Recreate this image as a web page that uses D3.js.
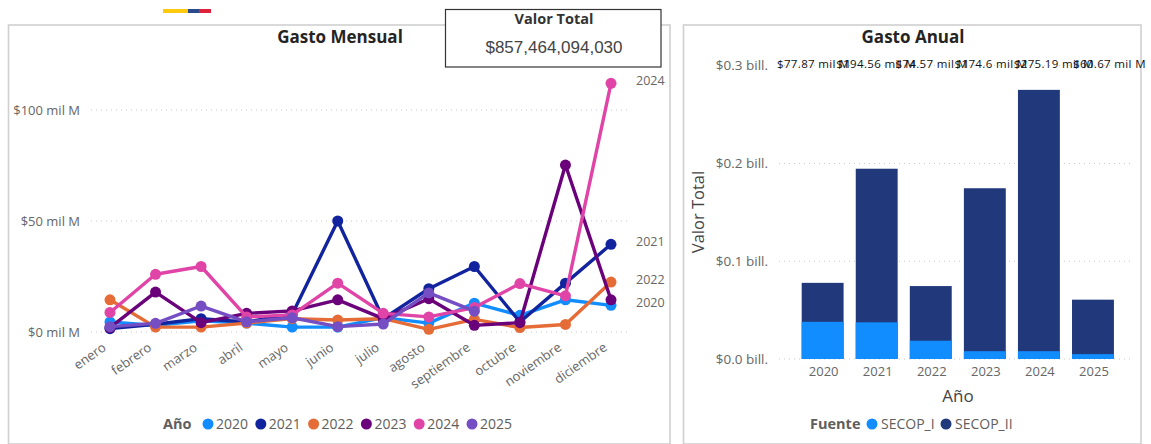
<!DOCTYPE html>
<html lang="es"><head><meta charset="utf-8">
<script src="https://cdn.jsdelivr.net/npm/d3@7"></script>
<style>
html,body{margin:0;padding:0;background:#fff;overflow:hidden}
svg{display:block}
text{font-family:"Open Sans","Noto Sans",sans-serif}
.axis path,.axis line{display:none}
</style></head><body>
<svg id="c" width="1151" height="444"></svg>
<script>
const months=["enero","febrero","marzo","abril","mayo","junio","julio","agosto","septiembre","octubre","noviembre","diciembre"];
const lineYears=["2020","2021","2022","2023","2024","2025"];
const lineColors=["#118DFF","#12239E","#E66C37","#6B007B","#E044A7","#744EC2"];
const v2020=[4.5,3,5,4,2.2,2.2,6.5,4,13,7.5,14.5,12];
const v2021=[1.5,3.5,6,4.5,8,50,6,19.5,29.5,4.5,22,39.5];
const v2022=[14.5,2.2,2.2,4,6,5.4,6,1.2,5.7,2,3.4,22.5];
const v2023=[2,18,4.2,8.4,9.5,14.5,6,15,3,4.2,75.2,14.5];
const v2024=[8.8,26,29.5,6.8,7.7,22,8.4,6.8,11,21.8,16.3,112];
const v2025=[2.4,3.9,11.7,4.6,6.4,2.4,3.6,17.6,9.4];
const lineValues=[v2020,v2021,v2022,v2023,v2024,v2025];
const lineTicks=[0,50,100];
const lineTickLabels=["$0 mil M","$50 mil M","$100 mil M"];
const labelledYears=["2020","2021","2022","2024"];

const barYears=["2020","2021","2022","2023","2024","2025"];
const secop1=[38,37.5,18.7,8,8,5];
const barTotals=[77.87,194.56,74.57,174.6,275.19,60.67];
const barTotalLabels=["$77.87 mil M","$194.56 mil M","$74.57 mil M","$174.6 mil M","$275.19 mil M","$60.67 mil M"];
const barTicks=[0,100,200,300];
const barTickLabels=["$0.0 bill.","$0.1 bill.","$0.2 bill.","$0.3 bill."];
const barSources=["SECOP_I","SECOP_II"];
const barColors=["#118DFF","#21397A"];
const kpiTitle="Valor Total", kpiValue="$857,464,094,030";
const flagColors=["#FFC90E","#2B4A8C","#E0213C"], flagShare=[0,25,36,48];

const svg=d3.select("#c");
const FONT='"Open Sans","Noto Sans",sans-serif';
function panel(x,y,w,h){svg.append("rect").attr("x",x).attr("y",y).attr("width",w).attr("height",h).attr("fill","#fff").attr("stroke","#d0d0d0").attr("stroke-width",1.6);}
panel(8.5,25,661.5,419);
panel(683.5,25,457.5,419);

// flag strip
const flagX=d3.scaleLinear().domain([0,48]).range([163,211]);
flagColors.forEach((c,i)=>svg.append("rect").attr("x",flagX(flagShare[i])).attr("y",9).attr("width",flagX(flagShare[i+1])-flagX(flagShare[i])).attr("height",4).attr("fill",c));

// titles
function title(t,x,y){svg.append("text").attr("x",x).attr("y",y).attr("text-anchor","middle").attr("font-size",17).attr("font-weight",700).attr("fill","#252423").text(t);}
title("Gasto Mensual",340,43);
title("Gasto Anual",913,43);

// LINE CHART
const x=d3.scalePoint().domain(months).range([110,611]);
const y=d3.scaleLinear().domain([0,100]).range([332,110]);
svg.append("g").selectAll("line").data(lineTicks).join("line")
 .attr("x1",91).attr("x2",628).attr("y1",d=>y(d)).attr("y2",d=>y(d))
 .attr("stroke","#c8c8c8").attr("stroke-dasharray","1 4").attr("stroke-width",1);
const yAxis=svg.append("g").attr("class","axis").attr("transform","translate(86,0)")
 .call(d3.axisLeft(y).tickValues(lineTicks).tickSize(0).tickPadding(6).tickFormat((d,i)=>lineTickLabels[i]));
yAxis.selectAll("text").attr("font-size",13).attr("fill","#666").attr("font-family",FONT);
const xAxis=svg.append("g").attr("class","axis").attr("transform","translate(-8,343)")
 .call(d3.axisBottom(x).tickSize(0).tickPadding(0));
xAxis.selectAll("text").attr("font-size",13).attr("fill","#666").attr("font-family",FONT)
 .attr("text-anchor","end").attr("dy","0.6em").attr("dx","0").attr("transform","rotate(-35)");
xAxis.select(".domain").remove();

const lineGen=d3.line().x((d,i)=>x(months[i])).y(d=>y(d));
lineYears.forEach((yr,k)=>{
 const g=svg.append("g");
 g.append("path").datum(lineValues[k]).attr("d",lineGen).attr("fill","none").attr("stroke",lineColors[k]).attr("stroke-width",3.4).attr("stroke-linejoin","round");
 g.selectAll("circle").data(lineValues[k]).join("circle").attr("cx",(d,i)=>x(months[i])).attr("cy",d=>y(d)).attr("r",5.5).attr("fill",lineColors[k]);
});
labelledYears.forEach(yr=>{
 const vals=lineValues[lineYears.indexOf(yr)];
 svg.append("text").attr("x",636).attr("y",y(vals[vals.length-1])-2.5).attr("dy","0.35em").attr("font-size",12.5).attr("fill","#666").text(yr);
});

// line legend
const legY=424;
svg.append("text").attr("x",163).attr("y",legY).attr("dy","0.35em").attr("font-size",14.5).attr("font-weight",700).attr("fill","#605E5C").text("Año");
const legX=d3.scalePoint().domain(lineYears).range([208,472]);
lineYears.forEach((yr,k)=>{
 svg.append("circle").attr("cx",legX(yr)).attr("cy",legY).attr("r",5.5).attr("fill",lineColors[k]);
 svg.append("text").attr("x",legX(yr)+8).attr("y",legY).attr("dy","0.35em").attr("font-size",14).attr("fill","#605E5C").text(yr);
});

// KPI box
svg.append("rect").attr("x",445.5).attr("y",9.5).attr("width",215.5).attr("height",57.5).attr("fill","#fff").attr("stroke","#333").attr("stroke-width",1.2);
svg.append("text").attr("x",554).attr("y",24).attr("text-anchor","middle").attr("font-size",14.5).attr("font-weight",700).attr("fill","#333").text(kpiTitle);
svg.append("text").attr("x",554).attr("y",53).attr("text-anchor","middle").attr("font-size",17).attr("fill","#444").style("font-family",'"Liberation Sans",sans-serif').text(kpiValue);

// BAR CHART
const bx=d3.scaleBand().domain(barYears).range([795.6,1120]).paddingInner(0.225).paddingOuter(0.1125);
const by=d3.scaleLinear().domain([0,300]).range([359,65.6]);
svg.append("g").selectAll("line").data(barTicks).join("line")
 .attr("x1",779).attr("x2",1134).attr("y1",d=>by(d)).attr("y2",d=>by(d))
 .attr("stroke","#c8c8c8").attr("stroke-dasharray","1 4").attr("stroke-width",1);
const byAxis=svg.append("g").attr("class","axis").attr("transform","translate(768,0)")
 .call(d3.axisLeft(by).tickValues(barTicks).tickSize(0).tickPadding(0).tickFormat((d,i)=>barTickLabels[i]));
byAxis.selectAll("text").attr("font-size",13.5).attr("fill","#666").attr("font-family",FONT);
const bxAxis=svg.append("g").attr("class","axis").attr("transform","translate(1,364)")
 .call(d3.axisBottom(bx).tickSize(0).tickPadding(0));
bxAxis.selectAll("text").attr("font-size",13).attr("fill","#666").attr("font-family",FONT).attr("dy","0.9em");
svg.append("g").selectAll("rect").data(barYears).join("rect")
 .attr("x",d=>bx(d)).attr("width",bx.bandwidth())
 .attr("y",(d,i)=>by(barTotals[i])).attr("height",(d,i)=>by(0)-by(barTotals[i]))
 .attr("fill",barColors[1]);
svg.append("g").selectAll("rect").data(barYears).join("rect")
 .attr("x",d=>bx(d)).attr("width",bx.bandwidth())
 .attr("y",(d,i)=>by(secop1[i])).attr("height",(d,i)=>by(0)-by(secop1[i]))
 .attr("fill",barColors[0]);
const labelX=d3.scalePoint().domain(barYears).range([777,1073]);
svg.append("g").selectAll("text").data(barYears).join("text")
 .attr("x",d=>labelX(d)).attr("y",64).attr("dy","0.35em").attr("font-size",11.5).attr("fill","#111")
 .attr("letter-spacing",0.35)
 .text((d,i)=>barTotalLabels[i]);
svg.append("text").attr("transform","translate(698,212) rotate(-90)").attr("dy","0.35em").attr("text-anchor","middle").attr("font-size",16.5).attr("fill","#444").text("Valor Total");
svg.append("text").attr("x",958).attr("y",396).attr("dy","0.35em").attr("text-anchor","middle").attr("font-size",17).attr("fill","#444").text("Año");

// bar legend
svg.append("text").attr("x",810).attr("y",legY).attr("dy","0.35em").attr("font-size",14.5).attr("font-weight",700).attr("fill","#605E5C").text("Fuente");
const bLegX=d3.scalePoint().domain(barSources).range([872,946]);
barSources.forEach((s,k)=>{
 svg.append("circle").attr("cx",bLegX(s)).attr("cy",legY).attr("r",5.5).attr("fill",barColors[k]);
 svg.append("text").attr("x",bLegX(s)+9).attr("y",legY).attr("dy","0.35em").attr("font-size",14).attr("fill","#605E5C").text(s);
});
</script></body></html>
